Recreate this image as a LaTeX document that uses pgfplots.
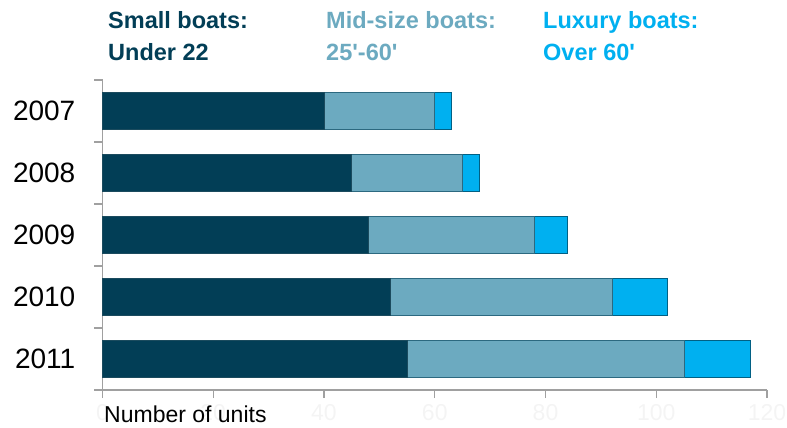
\documentclass[border=0pt]{standalone}
\usepackage{fontspec}
\setmainfont{Liberation Sans}
\usepackage{pgfplots}
\pgfplotsset{compat=1.18}

\definecolor{smallc}{RGB}{2,62,86}
\definecolor{midc}{RGB}{108,170,192}
\definecolor{luxc}{RGB}{0,176,240}
\definecolor{axisgray}{RGB}{160,160,160}

\begin{document}
\begin{tikzpicture}
\begin{axis}[
    at={(102.5bp,38bp)}, anchor=south west,
    scale only axis,
    width=664.5bp, height=310bp,
    xbar stacked,
    bar width=37bp,
    xmin=0, xmax=120,
    ymin=-0.5, ymax=4.5,
    y dir=reverse,
    axis x line=bottom, axis y line=left,
    axis line style={draw=axisgray, line width=1.2bp, -},
    xtick={0,20,...,120},
    minor xtick={0,20,...,120},
    ytick={0,1,2,3,4},
    yticklabels={2007,2008,2009,2010,2011},
    minor ytick={-0.5,0.5,1.5,2.5,3.5,4.5},
    tick align=outside,
    major tick length=0pt,
    minor tick length=8bp,
    tick style={draw=axisgray, line width=1.2bp},
    /pgf/number format/assume math mode=true,
    yticklabel style={font=\fontsize{28bp}{30bp}\selectfont, inner sep=0pt, xshift=-27bp},
    xticklabel style={font=\fontsize{23bp}{25bp}\selectfont, text=gray!9, inner sep=0pt, yshift=-14bp},
    clip=false,
]
\addplot[fill=smallc, draw=smallc!80!gray, line width=0.8bp]
    coordinates {(40,0) (45,1) (48,2) (52,3) (55,4)};
\addplot[fill=midc, draw=smallc!60!midc, line width=0.8bp]
    coordinates {(20,0) (20,1) (30,2) (40,3) (50,4)};
\addplot[fill=luxc, draw=smallc!70!luxc, line width=0.8bp]
    coordinates {(3,0) (3,1) (6,2) (10,3) (12,4)};
\end{axis}
\pgfresetboundingbox
\path (0,0) rectangle (787bp,428bp);
\begin{scope}[every node/.style={anchor=base west, inner sep=0pt, font=\fontsize{23.5bp}{26bp}\selectfont\bfseries}]
\node[text=smallc] at (108bp,399bp) {Small boats:};
\node[text=smallc] at (108bp,367bp) {Under 22};
\node[text=midc] at (326bp,399bp) {Mid-size boats:};
\node[text=midc] at (326bp,367bp) {25\textquotesingle-60\textquotesingle};
\node[text=luxc] at (543bp,399bp) {Luxury boats:};
\node[text=luxc] at (543bp,367bp) {Over 60\textquotesingle};
\end{scope}
\node[anchor=base west, inner sep=0pt, font=\fontsize{23bp}{25bp}\selectfont] at (104bp,6bp) {Number of units};
\end{tikzpicture}
\end{document}
